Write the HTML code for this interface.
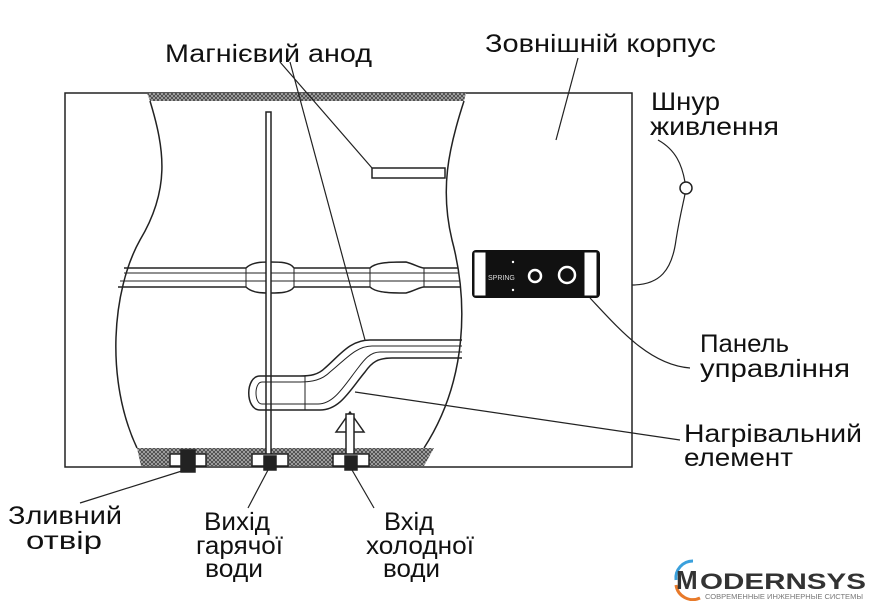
<!DOCTYPE html>
<html><head><meta charset="utf-8"><style>
html,body{margin:0;padding:0;background:#fff;}
svg{display:block}
text{font-family:"Liberation Sans","DejaVu Sans",sans-serif;fill:#111}
</style></head><body>
<svg width="869" height="601" viewBox="0 0 869 601" xmlns="http://www.w3.org/2000/svg">
<defs>
<pattern id="h" width="4" height="4" patternUnits="userSpaceOnUse">
<rect width="4" height="4" fill="#444"/><path d="M0 4L4 0M0 0L4 4" stroke="#bbb" stroke-width="0.7"/>
</pattern>
</defs>
<g fill="none" stroke="#222" stroke-width="1.5">
<rect x="65" y="93" width="567" height="374"/>
<path d="M147 93H466L464 101H150Z" fill="url(#h)" stroke="none"/>
<path d="M137 448H434L424 466H141Z" fill="url(#h)" stroke="none"/>
<path d="M150 101C165 150 170 190 140 240C112 290 105 380 137 448"/>
<path d="M464 101C448 150 440 190 452 240C468 300 468 380 424 448"/>
<path d="M124 268H246C252 262 262 262 270 262C280 262 290 262 294 268H370C376 262 392 262 406 262C414 264 420 268 424 268H458"/>
<path d="M118 287H246C252 293 262 293 270 293C280 293 290 293 294 287H370C376 293 392 293 406 293C414 291 420 287 424 287H460"/>
<path d="M124 273H458M120 281H460" stroke-width="1"/>
<path d="M246 268V287M294 268V287M370 268V287M424 268V287" stroke-width="1"/>
<rect x="266" y="112" width="5" height="355" fill="#fff"/>
<rect x="372" y="168" width="73" height="10" fill="#fff"/>
<path d="M462 340H370C350 340 340 355 325 368C318 375 310 376 300 376H260C245 376 245 410 260 410H320C340 410 350 390 365 372C372 362 378 358 392 358H462"/>
<path d="M462 346H372C356 346 345 360 330 372C322 380 312 382 300 382H262C254 382 254 404 262 404H318C334 404 344 386 358 368C364 360 370 352 380 352H462" stroke-width="1"/>
<path d="M266 376V410M305 376V410" stroke-width="1"/>
<path d="M336 432L350 412L364 432Z" fill="#fff"/>
<rect x="346" y="414" width="8" height="52" fill="#fff"/>
<rect x="170" y="454" width="36" height="12" fill="#fff"/>
<rect x="181" y="450" width="14" height="22" fill="#222"/>
<rect x="252" y="454" width="36" height="12" fill="#fff"/>
<rect x="264" y="456" width="12" height="14" fill="#222"/>
<rect x="333" y="454" width="36" height="12" fill="#fff"/>
<rect x="345" y="456" width="12" height="14" fill="#222"/>
<path d="M280 62L372 168M290 62L365 340" stroke-width="1.2"/>
<path d="M578 58L556 140" stroke-width="1.2"/>
<path d="M590 298C620 330 650 365 690 368" stroke-width="1.2"/>
<path d="M355 392L680 440" stroke-width="1.2"/>
<path d="M185 470L80 503" stroke-width="1.2"/>
<path d="M268 470L248 508" stroke-width="1.2"/>
<path d="M352 470L374 508" stroke-width="1.2"/>
<path d="M632 285C660 285 672 270 676 240C680 215 684 200 685 194M685 182C682 165 676 150 658 140" stroke-width="1.2"/>
<circle cx="686" cy="188" r="6" fill="#fff"/>
</g>
<rect x="472" y="250" width="128" height="48" rx="4" fill="#111"/>
<rect x="474" y="252" width="12" height="44" fill="#fff" stroke="#111"/>
<rect x="584" y="252" width="13" height="44" fill="#fff" stroke="#111"/>
<text x="488" y="280" font-size="7" style="fill:#ddd">SPRING</text>
<circle cx="535" cy="276" r="6" fill="none" stroke="#fff" stroke-width="2.5"/>
<circle cx="567" cy="275" r="8" fill="none" stroke="#fff" stroke-width="2.5"/>
<circle cx="513" cy="262" r="1.2" fill="#fff"/><circle cx="513" cy="290" r="1.2" fill="#fff"/>
<g font-size="25" lengthAdjust="spacingAndGlyphs">
<text x="165" y="62" textLength="207" lengthAdjust="spacingAndGlyphs">Магнієвий анод</text>
<text x="485" y="52" textLength="231" lengthAdjust="spacingAndGlyphs">Зовнішній корпус</text>
<text x="651" y="110" textLength="69" lengthAdjust="spacingAndGlyphs">Шнур</text>
<text x="650" y="135" textLength="129" lengthAdjust="spacingAndGlyphs">живлення</text>
<text x="700" y="352" textLength="89" lengthAdjust="spacingAndGlyphs">Панель</text>
<text x="700" y="377" textLength="150" lengthAdjust="spacingAndGlyphs">управління</text>
<text x="684" y="442" textLength="178" lengthAdjust="spacingAndGlyphs">Нагрівальний</text>
<text x="684" y="466" textLength="109" lengthAdjust="spacingAndGlyphs">елемент</text>
<text x="8" y="524" textLength="114" lengthAdjust="spacingAndGlyphs">Зливний</text>
<text x="26" y="549" textLength="76" lengthAdjust="spacingAndGlyphs">отвір</text>
<text x="204" y="530" textLength="66" lengthAdjust="spacingAndGlyphs">Вихід</text>
<text x="196" y="554" textLength="87" lengthAdjust="spacingAndGlyphs">гарячої</text>
<text x="205" y="577" textLength="58" lengthAdjust="spacingAndGlyphs">води</text>
<text x="384" y="530" textLength="50" lengthAdjust="spacingAndGlyphs">Вхід</text>
<text x="366" y="554" textLength="108" lengthAdjust="spacingAndGlyphs">холодної</text>
<text x="383" y="577" textLength="57" lengthAdjust="spacingAndGlyphs">води</text>
</g>
<path d="M676 580A17 17 0 0 1 693 561" fill="none" stroke="#3aa0dc" stroke-width="3"/>
<path d="M676 585A17 17 0 0 0 700 598" fill="none" stroke="#e87a2a" stroke-width="3"/>
<text x="676" y="589" font-size="26" font-weight="bold" style="fill:#333">M</text>
<text x="700" y="589" font-size="22" font-weight="bold" style="fill:#333" textLength="166" lengthAdjust="spacingAndGlyphs">ODERNSYS</text>
<text x="705" y="599" font-size="7.5" style="fill:#777" textLength="158" lengthAdjust="spacingAndGlyphs">СОВРЕМЕННЫЕ ИНЖЕНЕРНЫЕ СИСТЕМЫ</text>
</svg>
</body></html>
